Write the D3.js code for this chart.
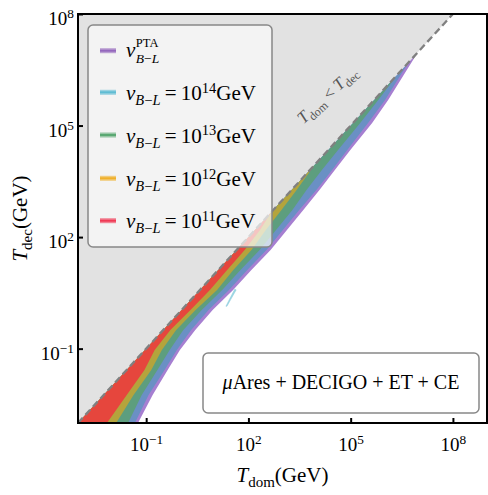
<!DOCTYPE html>
<html><head><meta charset="utf-8">
<script src="https://cdn.jsdelivr.net/npm/d3@7"></script>
<style>body{margin:0;background:#fff}svg{display:block}text{font-family:"Liberation Serif","Times New Roman",serif;white-space:pre}</style>
</head><body><svg id="c" width="488" height="495"></svg>
<script>
// ---- data (log10 values) ----
const xDomain = [1e-3, 1e9];          // T_dom (GeV)
const yDomain = [1e-3, 1e8];          // T_dec (GeV)
const xTickValues = [1e-1, 1e2, 1e5, 1e8];
const yTickValues = [1e-1, 1e2, 1e5, 1e8];
const seriesNames = ["PTA", "14", "13", "12", "11"];
const legendColors = ["#9467bd", "#5fbcd3", "#5aa872", "#f0b02a", "#f03a55"];
const fillColors  = ["#a67fd1", "#6a90c4", "#5d9e7e", "#b4a43c", "#e6463d"];
// right edges of each detectable region: [log10 Tdec, log10 Tdom]
const edgePTA = [[-3.00,-1.24],[-2.25,-0.81],[-1.575,-0.37],[-1.04,-0.01],[-0.50,0.44],[0.04,0.95],[0.58,1.55],[1.11,2.08],[1.65,2.65],[2.19,3.13],[2.73,3.61],[3.27,4.09],[3.80,4.53],[4.34,4.99],[5.07,5.63],[5.69,6.10],[6.22,6.46],[6.84,6.88],[6.90,6.90]];
const edge14 = [[-3.00,-1.33],[-2.25,-0.93],[-1.575,-0.46],[-1.04,-0.10],[-0.50,0.32],[0.04,0.83],[0.58,1.43],[1.11,1.96],[1.65,2.53],[2.19,3.01],[2.73,3.49],[3.27,4.00],[3.80,4.45],[4.34,4.90],[5.07,5.51],[5.69,6.01],[6.22,6.37],[6.71,6.71]];
const edge13 = [[-3.00,-1.53],[-2.25,-1.13],[-1.575,-0.67],[-1.04,-0.31],[-0.50,0.09],[0.04,0.63],[0.58,1.23],[1.11,1.76],[1.65,2.33],[2.19,2.81],[2.73,3.29],[3.27,3.71],[3.80,4.15],[4.34,4.63],[5.07,5.28],[5.69,5.81],[6.22,6.25],[6.36,6.36]];
const edge12 = [[-3.00,-1.88],[-2.25,-1.37],[-1.575,-0.85],[-1.04,-0.54],[-0.50,-0.12],[0.04,0.45],[0.58,1.08],[1.11,1.55],[1.65,2.09],[2.19,2.51],[2.73,2.97],[3.27,3.42],[3.80,3.83],[3.94,3.94]];
const edge11 = [[-3.00,-2.15],[-2.25,-1.57],[-1.575,-1.05],[-1.04,-0.75],[-0.50,-0.29],[0.04,0.30],[0.58,0.87],[1.11,1.37],[1.65,1.89],[2.19,2.34],[2.67,2.67]];
const cyanIsland = [[0.14,1.34],[0.32,1.44],[0.60,1.60],[0.58,1.64],[0.32,1.48],[0.14,1.37]];
const detectorLabel = "μAres + DECIGO + ET + CE";

// ---- drawing ----
const svg = d3.select("#c");
const X0 = 78, X1 = 487, Y0 = 14, Y1 = 423;
const x = d3.scaleLog().domain(xDomain).range([X0, X1]);
const y = d3.scaleLog().domain(yDomain).range([Y1, Y0]);
const P = (tdec, tdom) => [x(10 ** tdom), y(10 ** tdec)];

svg.append("defs").append("clipPath").attr("id", "clip")
  .append("rect").attr("x", X0).attr("y", Y0).attr("width", X1 - X0).attr("height", Y1 - Y0);
const plot = svg.append("g").attr("clip-path", "url(#clip)");

// excluded region T_dom < T_dec
plot.append("path")
  .attr("d", d3.line()([[x(xDomain[0]), y(yDomain[0])], [x(yDomain[1]), y(yDomain[1])], [x(xDomain[0]), y(yDomain[1])]]) + "Z")
  .attr("fill", "#e2e2e2");

function bandPath(edge) {
  const s = edge[0][0] - 0.15;
  const e = edge[edge.length - 1][0];
  const pts = [P(s, s), P(e, e)];
  for (let i = edge.length - 1; i >= 0; i--) pts.push(P(edge[i][0], edge[i][1]));
  pts.push(P(s, edge[0][1] - 0.15));
  return d3.line()(pts) + "Z";
}
const edges = [edgePTA, edge14, edge13, edge12, edge11];
edges.forEach((ed, i) => {
  plot.append("path").attr("d", bandPath(ed)).attr("fill", fillColors[i]);
});
plot.append("path").attr("d", d3.line()(cyanIsland.map(d => P(d[0], d[1]))) + "Z")
  .attr("fill", "#9adce2").attr("stroke", "#8cc4dc").attr("stroke-width", 0.5);

// diagonal T_dom = T_dec
plot.append("line")
  .attr("x1", x(xDomain[0])).attr("y1", y(yDomain[0]))
  .attr("x2", x(yDomain[1])).attr("y2", y(yDomain[1]))
  .attr("stroke", "#808080").attr("stroke-width", 2.3).attr("stroke-dasharray", "7,4");

// rotated label
const rl = svg.append("text").attr("transform", "translate(331,99) rotate(-43)")
  .attr("text-anchor", "middle").attr("fill", "#555").attr("font-size", 17);
rl.append("tspan").attr("font-style", "italic").text("T");
rl.append("tspan").attr("font-size", 12).attr("dy", 4).text("dom");
rl.append("tspan").attr("dy", -4).text("\u2005<\u2005");
rl.append("tspan").attr("font-style", "italic").text("T");
rl.append("tspan").attr("font-size", 12).attr("dy", 4).text("dec");

// legend
const lg = svg.append("g");
lg.append("rect").attr("x", 88).attr("y", 25).attr("width", 184).attr("height", 222).attr("rx", 5)
  .attr("fill", "#fbfbfb").attr("fill-opacity", 0.7).attr("stroke", "#888").attr("stroke-width", 1.5);
const rowY = [50.7, 92.3, 135, 178.3, 220.7];
seriesNames.forEach((nm, i) => {
  const cy = rowY[i];
  lg.append("rect").attr("x", 100).attr("y", cy - 2.5).attr("width", 16).attr("height", 5)
    .attr("fill", legendColors[i]).attr("fill-opacity", 0.6);
  lg.append("line").attr("x1", 100).attr("x2", 116).attr("y1", cy).attr("y2", cy)
    .attr("stroke", legendColors[i]).attr("stroke-width", 2);
  if (nm === "PTA") {
    const base = cy + 6;
    const v = lg.append("text").attr("x", 126).attr("y", base).attr("font-size", 21).attr("font-style", "italic").text("v");
    const vw = v.node().getComputedTextLength() + 0.5;
    lg.append("text").attr("x", 126 + vw).attr("y", base - 10).attr("font-size", 12.5).text("PTA");
    const sb = lg.append("text").attr("x", 126 + vw).attr("y", base + 6).attr("font-size", 13.5);
    sb.append("tspan").attr("font-style", "italic").text("B");
    sb.append("tspan").text("−");
    sb.append("tspan").attr("font-style", "italic").text("L");
  } else {
    const t = lg.append("text").attr("x", 126).attr("y", cy + 7.7).attr("font-size", 21);
    t.append("tspan").attr("font-style", "italic").text("v");
    t.append("tspan").attr("font-size", 14.5).attr("dy", 5).attr("font-style", "italic").text("B");
    t.append("tspan").attr("font-size", 14.5).text("−");
    t.append("tspan").attr("font-size", 14.5).attr("font-style", "italic").text("L");
    t.append("tspan").attr("dy", -5).text("\u2009=\u200910");
    t.append("tspan").attr("font-size", 14.5).attr("dy", -7.5).text(nm);
    t.append("tspan").attr("dy", 7.5).text("GeV");
  }
});

// detector box
svg.append("rect").attr("x", 203).attr("y", 353).attr("width", 276).attr("height", 60).attr("rx", 5)
  .attr("fill", "#fff").attr("stroke", "#888").attr("stroke-width", 1.5);
const dt = svg.append("text").attr("x", 341).attr("y", 389).attr("text-anchor", "middle").attr("font-size", 20);
dt.append("tspan").attr("font-style", "italic").text(detectorLabel[0]);
dt.append("tspan").text(detectorLabel.slice(1));

// axes
function pow10(sel, d, size) {
  const e = Math.round(Math.log10(d));
  sel.text(null).attr("font-size", size).attr("fill", "#000");
  sel.append("tspan").text("10");
  sel.append("tspan").attr("font-size", size * 0.7).attr("dy", -7).text(e < 0 ? "−" + (-e) : String(e));
}
const gx = svg.append("g").attr("transform", `translate(0,${Y1})`)
  .call(d3.axisBottom(x).tickValues(xTickValues).tickSizeInner(-5).tickSizeOuter(0).tickFormat(() => ""));
gx.select(".domain").remove();
gx.selectAll(".tick line").attr("stroke", "#000").attr("stroke-width", 2);
gx.selectAll(".tick text").attr("y", 28).attr("dy", 0).attr("font-family", null)
  .each(function (d) { pow10(d3.select(this), d, 19); });

const gy = svg.append("g").attr("transform", `translate(${X0},0)`)
  .call(d3.axisLeft(y).tickValues(yTickValues).tickSizeInner(-5).tickSizeOuter(0).tickFormat(() => ""));
gy.select(".domain").remove();
gy.selectAll(".tick line").attr("stroke", "#000").attr("stroke-width", 2);
gy.selectAll(".tick text").attr("x", -4).attr("dy", 0).attr("y", 10.5).attr("font-family", null)
  .each(function (d) { pow10(d3.select(this), d, 19); });

// frame
svg.append("rect").attr("x", X0).attr("y", Y0).attr("width", X1 - X0).attr("height", Y1 - Y0)
  .attr("fill", "none").attr("stroke", "#000").attr("stroke-width", 2);

// axis labels
const xl = svg.append("text").attr("x", (X0 + X1) / 2).attr("y", 482).attr("text-anchor", "middle").attr("font-size", 21);
xl.append("tspan").attr("font-style", "italic").text("T");
xl.append("tspan").attr("font-size", 15).attr("dy", 5).text("dom");
xl.append("tspan").attr("dy", -5).text("(GeV)");
const yl = svg.append("text").attr("transform", `translate(27,${(Y0 + Y1) / 2}) rotate(-90)`).attr("text-anchor", "middle").attr("font-size", 21);
yl.append("tspan").attr("font-style", "italic").text("T");
yl.append("tspan").attr("font-size", 15).attr("dy", 5).text("dec");
yl.append("tspan").attr("dy", -5).text("(GeV)");
</script></body></html>
